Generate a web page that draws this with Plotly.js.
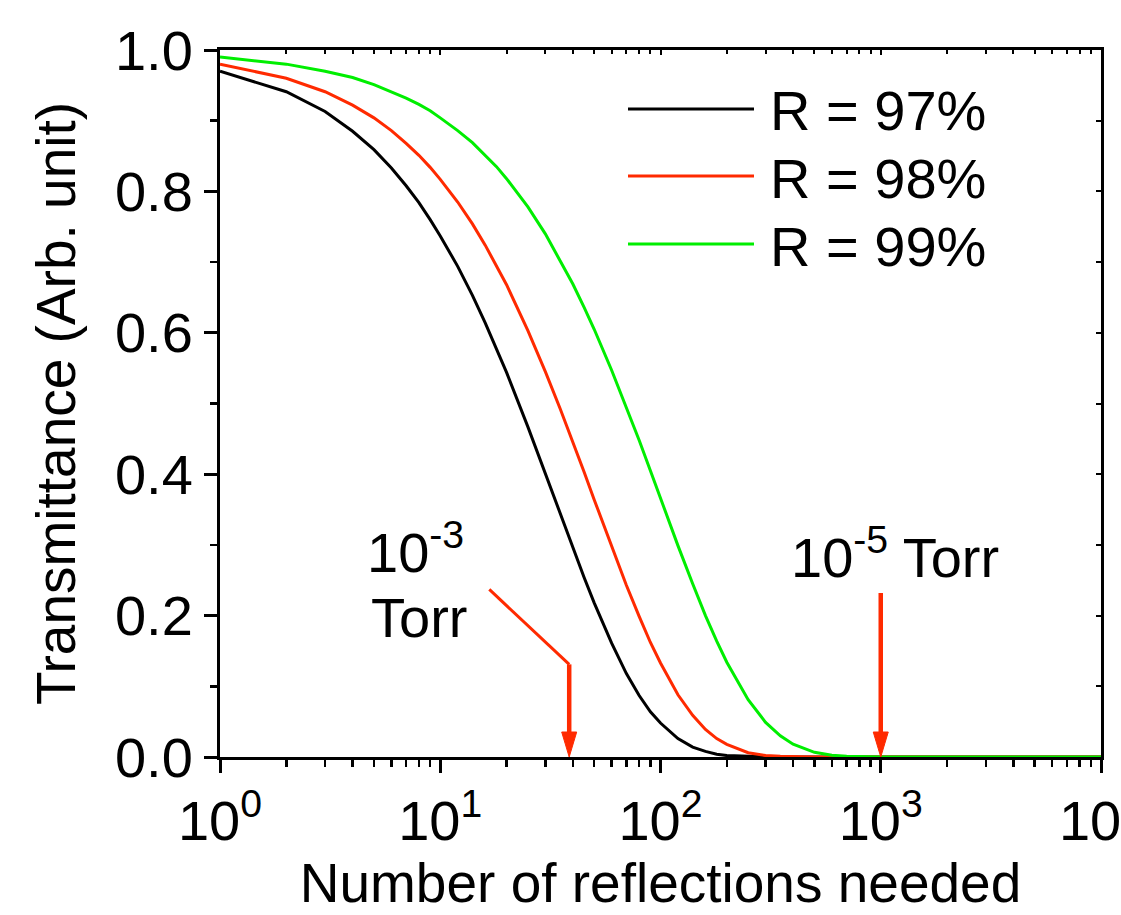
<!DOCTYPE html>
<html>
<head>
<meta charset="utf-8">
<script src="https://cdn.plot.ly/plotly-3.0.1.min.js"></script>
<style>html,body{margin:0;padding:0;background:#fff;}#chart{width:1121px;height:915px;}</style>
</head>
<body>
<div id="chart"></div>
<script>
// Number of reflections (x) and transmittance
const reflections = [1,2,3,4,5,6,7,8,9,10,12,14,16,18,20,25,30,35,40,45,50,60,70,80,90,100,120,140,160,180,200,250,300,350,400,500,600,700,800,1000,1500,2000,3000,5000,10000];
const t97 = [0.970,0.941,0.913,0.885,0.859,0.833,0.808,0.784,0.760,0.737,0.694,0.653,0.614,0.578,0.544,0.467,0.401,0.344,0.296,0.254,0.218,0.161,0.118,0.087,0.064,0.048,0.026,0.014,0.008,0.004,0.002,0.0005,0.0001,0,0,0,0,0,0,0,0,0,0,0,0];
const t98 = [0.980,0.960,0.941,0.922,0.904,0.886,0.868,0.851,0.834,0.817,0.785,0.754,0.724,0.695,0.668,0.603,0.545,0.493,0.446,0.403,0.364,0.298,0.243,0.199,0.162,0.133,0.088,0.059,0.039,0.026,0.018,0.006,0.002,0.0009,0.0003,0.00004,0,0,0,0,0,0,0,0,0];
const t99 = [0.990,0.980,0.970,0.961,0.951,0.941,0.932,0.923,0.914,0.904,0.886,0.869,0.851,0.835,0.818,0.778,0.740,0.703,0.669,0.636,0.605,0.547,0.495,0.448,0.405,0.366,0.299,0.245,0.200,0.164,0.134,0.081,0.049,0.030,0.018,0.0066,0.0024,0.0009,0.0003,0.00004,0,0,0,0,0];
const seriesNames = ['R = 97%','R = 98%','R = 99%'];
const seriesColors = ['#000000','#ff2a00','#00ee00'];
const xTickVals = [1,10,100,1000,10000];
const xTickText = ['10<sup>0</sup>','10<sup>1</sup>','10<sup>2</sup>','10<sup>3</sup>','10<sup>4</sup>'];
const yTickVals = [0,0.2,0.4,0.6,0.8,1.0];
const yTickText = ['0.0','0.2','0.4','0.6','0.8','1.0'];
// pressure markers: number of reflections indicated by arrows, and arrow top (transmittance)
const arrowN = [38.5, 1000];
const arrowTop = [0.131, 0.232];
const leaderStart = [16.7, 0.237];

const FONT = 'Liberation Sans, Arial, Helvetica, sans-serif';
const RED = '#ff2a00';
const ys = [t97,t98,t99];
const traces = ys.map((y,i)=>({
  x: reflections, y: y, type:'scatter', mode:'lines', name: seriesNames[i],
  line:{color: seriesColors[i], width:3}, showlegend:false, hoverinfo:'skip'
}));
traces.push({x:[], y:[], xaxis:'x2', yaxis:'y2', type:'scatter', mode:'lines', showlegend:false, hoverinfo:'skip'});

const L = 220, R = 1101, T = 50, B = 757;
const px = v => (v - L)/(R - L);
const py = v => (B - v)/(B - T);

const shapes = [];
const annotations = [];
// legend
const legY = [109,176,244];
seriesNames.forEach((n,i)=>{
  shapes.push({type:'line', xref:'paper', yref:'paper', x0:px(628), x1:px(754), y0:py(legY[i]), y1:py(legY[i]), line:{color:seriesColors[i], width:3}});
  annotations.push({xref:'paper', yref:'paper', x:px(768), y:py(legY[i]+2), xanchor:'left', yanchor:'middle', text:n, showarrow:false, font:{family:FONT, size:56, color:'#000'}});
});
// slanted leader line
shapes.push({type:'line', xref:'x', yref:'y', x0:leaderStart[0], y0:leaderStart[1], x1:arrowN[0], y1:arrowTop[0], line:{color:RED, width:3}});
// arrows: shaft + elongated head
arrowN.forEach((n,i)=>{
  shapes.push({type:'line', xref:'x', yref:'y', x0:n, x1:n, y0:arrowTop[i], y1:0.02, line:{color:RED, width:4.5}});
  shapes.push({type:'path', xref:'x', yref:'y', xsizemode:'pixel', ysizemode:'pixel', xanchor:n, yanchor:0,
    path:'M-7.5,25 L7.5,25 L0,0 Z', fillcolor:RED, line:{color:RED, width:1}});
});
// texts
annotations.push({xref:'paper', yref:'paper', x:px(415), y:py(548), xanchor:'center', yanchor:'middle', text:'10<sup>-3</sup>', showarrow:false, font:{family:FONT, size:56, color:'#000'}});
annotations.push({xref:'paper', yref:'paper', x:px(419), y:py(617), xanchor:'center', yanchor:'middle', text:'Torr', showarrow:false, font:{family:FONT, size:56, color:'#000'}});
annotations.push({xref:'paper', yref:'paper', x:px(895), y:py(553), xanchor:'center', yanchor:'middle', text:'10<sup>-5</sup> Torr', showarrow:false, font:{family:FONT, size:56, color:'#000'}});

const layout = {
  width:1121, height:915,
  margin:{l:L, r:1121-R, t:T, b:915-B},
  paper_bgcolor:'#fff', plot_bgcolor:'#fff',
  font:{family:FONT, color:'#000'},
  xaxis:{type:'log', range:[0,4], tickvals:xTickVals, ticktext:xTickText,
    ticks:'outside', ticklen:13, tickwidth:3, tickcolor:'#000', ticklabeloverflow:'allow',
    minor:{ticks:'outside', ticklen:7, tickwidth:2.5, tickcolor:'#000', dtick:'D1', showgrid:false},
    showline:true, linewidth:3, linecolor:'#000', showgrid:false, zeroline:false,
    tickfont:{family:FONT, size:56, color:'#000'},
    title:{text:'Number of reflections needed', font:{family:FONT, size:55, color:'#000'}, standoff:10}},
  yaxis:{range:[0,1], tickvals:yTickVals, ticktext:yTickText,
    ticks:'outside', ticklen:13, tickwidth:3, tickcolor:'#000',
    minor:{ticks:'outside', ticklen:7, tickwidth:2.5, tickcolor:'#000', dtick:0.1, showgrid:false},
    showline:true, linewidth:3, linecolor:'#000', showgrid:false, zeroline:false,
    tickfont:{family:FONT, size:56, color:'#000'},
    title:{text:'Transmittance (Arb. unit)', font:{family:FONT, size:55, color:'#000'}, standoff:22}},
  xaxis2:{type:'log', range:[0,4], overlaying:'x', side:'top', anchor:'y2', showticklabels:false,
    tickvals:xTickVals, ticks:'inside', ticklen:5, tickwidth:2, tickcolor:'#000',
    minor:{ticks:'inside', ticklen:4, tickwidth:2, tickcolor:'#000', dtick:'D1', showgrid:false},
    showline:true, linewidth:3, linecolor:'#000', showgrid:false, zeroline:false},
  yaxis2:{range:[0,1], overlaying:'y', side:'right', anchor:'x2', showticklabels:false,
    dtick:0.1, tick0:0, ticks:'inside', ticklen:5, tickwidth:2, tickcolor:'#000',
    showline:true, linewidth:3, linecolor:'#000', showgrid:false, zeroline:false},
  shapes:shapes, annotations:annotations, showlegend:false
};
Plotly.newPlot('chart', traces, layout, {staticPlot:true, displayModeBar:false});
</script>
</body>
</html>
